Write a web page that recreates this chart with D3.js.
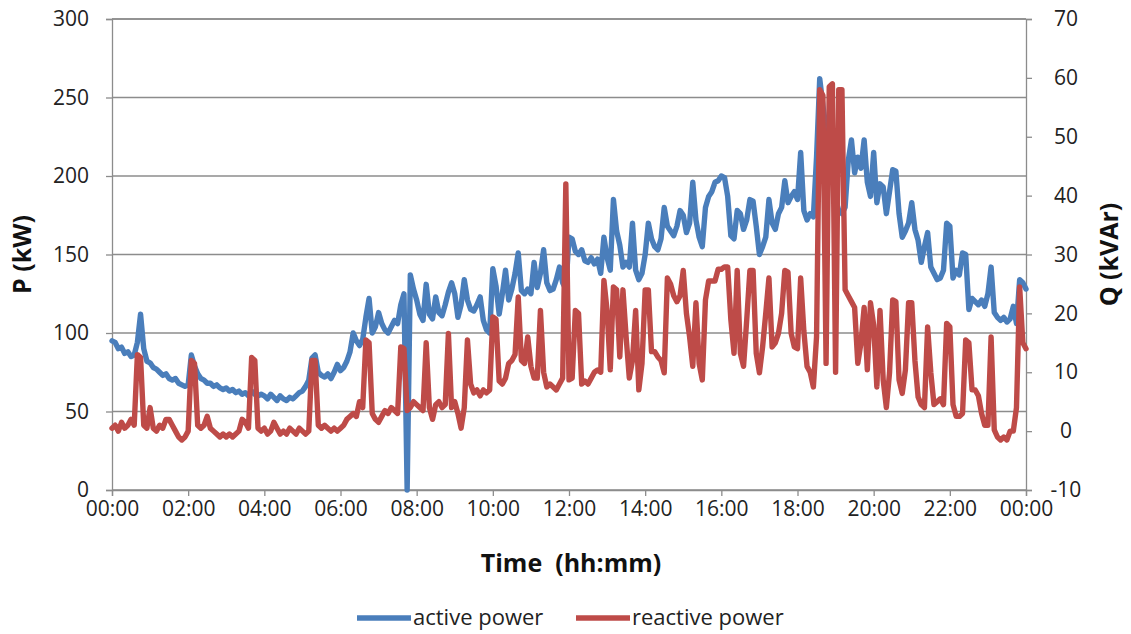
<!DOCTYPE html>
<html><head><meta charset="utf-8">
<script src="https://cdn.jsdelivr.net/npm/d3@7"></script>
<style>
html,body{margin:0;padding:0;background:#fff;}
svg{display:block;font-family:"Open Sans",sans-serif;}
</style></head>
<body>
<svg id="chart" width="1131" height="634"></svg>
<script>
// ---- data (5-minute samples, 00:00 .. 24:00) ----
const xTickLabels = ["00:00","02:00","04:00","06:00","08:00","10:00","12:00","14:00","16:00","18:00","20:00","22:00","00:00"];
const pTicks = [0,50,100,150,200,250,300];
const qTicks = [-10,0,10,20,30,40,50,60,70];
const seriesNames = ["active power","reactive power"];

// active power P (kW), one row per hour
const activePower = [
  95, 94, 90, 91, 87, 88, 85, 86, 94,112, 90, 82,
  81, 78, 77, 75, 73, 74, 71, 70, 71, 68, 67, 66,
  67, 86, 79, 74, 71, 70, 68, 68, 66, 67, 65, 64,
  65, 63, 64, 62, 63, 61, 62, 60, 63, 61, 60, 61,
  60, 58, 61, 59, 57, 60, 58, 57, 59, 58, 60, 62,
  63, 66, 70, 84, 86, 75, 73, 72, 74, 71, 75, 80,
  76, 78, 82, 88,100, 95, 92, 96,110,122,100,104,
 113,106,102,100,104,108,106,118,125,  0,137,128,
 121,112,108,131,112,109,123,113,111,118,126,132,
 125,110,118,134,121,115,114,118,123,108,102,100,
 141,130,112,125,140,121,128,138,151,127,125,128,
 125,145,129,138,153,132,127,128,134,142,132,128,
 161,160,152,150,153,146,145,148,144,147,138,161,
 148,140,185,165,156,142,145,142,170,140,134,138,
 150,170,160,155,153,160,180,168,165,162,168,178,
 175,164,170,196,172,161,155,180,187,190,196,197,
 200,199,187,162,160,178,176,166,172,185,184,168,
 150,155,161,185,170,166,176,180,197,183,187,190,
 185,215,178,172,176,174,212,262,245,230,215,200,
 185,178,176,180,210,223,202,212,205,223,196,187,
 215,183,195,193,176,190,204,203,176,161,165,170,
 183,166,159,145,155,164,142,138,134,135,140,170,
 168,135,140,137,151,150,115,122,120,118,121,117,
 125,142,113,110,108,110,107,109,117,106,134,132,
 128
];

// reactive power Q (kVAr), one row per hour
const reactivePower = [
 0.5, 1, 0, 1.5, 0.5, 1, 2, 1, 13, 12.5, 1, 0.5,
 4, 0.5, 0, 1, 0.5, 2, 2, 1, 0, -1, -1.5, -1,
 0, 12, 11.5, 1, 0.5, 1, 2.5, 0.5, 0, -0.5, -1, -0.5,
 -1, -0.5, -1, -0.5, 0, 2, 1.5, 0.5, 12.5, 12, 0.5, 0,
 0.5, -0.5, 0, 1.5, 0.5, -0.5, 0, -0.5, 0.5, 0, -0.5, 0.5,
 0, -0.5, 0, 12, 12, 1, 0.5, 1, 0.5, 0, 0.5, 0,
 0.5, 1, 2, 2.5, 3, 2.5, 5, 4, 15.5, 15, 3, 2,
 1.5, 2.5, 3.5, 3, 4, 3.5, 3, 14.3, 14, 3.5, 4, 5,
 4.5, 4, 3.5, 15, 4, 2, 4.5, 5, 4, 4.5, 16.6, 4,
 5, 3, 0.5, 4, 15.5, 8, 6.5, 7, 6, 7, 6.5, 7,
 19.4, 19, 8.5, 8, 9, 11.5, 12, 13, 22.8, 12, 11.5, 16,
 11, 9, 9, 20.5, 10, 7.5, 8, 7.5, 7, 8, 9, 42,
 8.7, 9, 20.5, 20, 8, 8.5, 8, 9, 10, 10.4, 10, 25.6,
 20.5, 10.4, 24.5, 24, 12.6, 24, 16, 9, 12, 20.5, 7, 11.5,
 24, 24, 13.5, 13.5, 12.6, 12, 9.9, 26, 25, 23, 22, 23,
 27.3, 20, 16, 11, 21.8, 11.5, 8.7, 22.3, 25.5, 25.5, 25.5, 27.5,
 27.5, 27.9, 27.9, 18.9, 13.2, 27.3, 13.2, 11, 18.9, 27.3, 27.3, 13.2,
 9.9, 14.3, 20, 26, 14.3, 15, 16.6, 20, 27.3, 27, 16.6, 14.3,
 14, 26, 17, 11, 10, 7.5, 16, 58, 57, 11.5, 58.5, 59,
 10, 58, 58, 24, 23, 22, 21, 11.5, 15, 21, 10.4, 21.8,
 18, 7.5, 20.5, 8.7, 4, 9.9, 22.3, 22, 8.7, 6.4, 10.4, 21.8,
 21.8, 12, 5.8, 4.5, 4, 17.7, 10, 4.5, 5, 5.5, 4.5, 18.3,
 17.7, 4.5, 2.5, 2.5, 3, 15.5, 15, 7, 7, 6, 3, 1,
 1, 16, 0.2, -1, -1.5, -1, -1.5, 0, 0, 4, 24.5, 15,
 14
];
const minutes = activePower.map((d, i) => i * 5);

// ---- drawing ----
(function () {
const svg = d3.select("#chart");
const mLeft = 112, mRight = 1026, mTop = 19, mBottom = 490;
const blue = "#4A7EBB", red = "#BE4B48", grid = "#8C8C8C";
const font = "'Open Sans',sans-serif";
const lw = 5.4;

const x = d3.scaleLinear().domain([0, 1440]).range([mLeft, mRight]);
const yP = d3.scaleLinear().domain([0, 300]).range([mBottom, mTop]);
const yQ = d3.scaleLinear().domain([-10, 70]).range([mBottom, mTop]);

// gridlines
svg.append("g").selectAll("line").data(pTicks).join("line")
  .attr("x1", mLeft).attr("x2", mRight)
  .attr("y1", d => yP(d)).attr("y2", d => yP(d))
  .attr("stroke", grid).attr("stroke-width", 1.3);

// axes
const fontSize = 21;
const xAxis = d3.axisBottom(x).tickValues(d3.range(0, 1441, 120))
  .tickFormat((d, i) => xTickLabels[i]).tickSize(6).tickPadding(5);
const gx = svg.append("g").attr("transform", `translate(0,${mBottom})`).call(xAxis);
const lAxis = d3.axisLeft(yP).tickValues(pTicks).tickSize(6).tickPadding(17);
const gl = svg.append("g").attr("transform", `translate(${mLeft},0)`).call(lAxis);
const rAxis = d3.axisRight(yQ).tickValues(qTicks).tickFormat(d => String(d)).tickSize(6).tickPadding(34);
const gr = svg.append("g").attr("transform", `translate(${mRight},0)`).call(rAxis);
gr.selectAll("text").attr("text-anchor", "middle");
[gx, gl, gr].forEach(g => {
  g.selectAll("path.domain").attr("stroke", grid).attr("stroke-width", 1.3);
  g.selectAll(".tick line").attr("stroke", grid).attr("stroke-width", 1.3);
  g.selectAll("text").attr("font-family", font)
    .attr("font-size", fontSize).attr("fill", "#222");
});
// top border
svg.append("line").attr("x1", mLeft).attr("x2", mRight).attr("y1", mTop).attr("y2", mTop)
  .attr("stroke", grid).attr("stroke-width", 1.3);

// series lines
const lineP = d3.line().x((d, i) => x(minutes[i])).y(d => yP(d));
const lineQ = d3.line().x((d, i) => x(minutes[i])).y(d => yQ(d));
svg.append("path").datum(activePower).attr("d", lineP)
  .attr("fill", "none").attr("stroke", blue).attr("stroke-width", lw)
  .attr("stroke-linejoin", "round").attr("stroke-linecap", "round");
svg.append("path").datum(reactivePower).attr("d", lineQ)
  .attr("fill", "none").attr("stroke", red).attr("stroke-width", lw)
  .attr("stroke-linejoin", "round").attr("stroke-linecap", "round");

// axis titles
svg.append("text").attr("transform", `translate(31,${(mTop + mBottom) / 2}) rotate(-90)`)
  .attr("text-anchor", "middle").attr("font-weight", "bold").attr("font-size", 25)
  .attr("font-family", font).attr("fill", "#111").text("P (kW)");
svg.append("text").attr("transform", `translate(1118,${(mTop + mBottom) / 2}) rotate(-90)`)
  .attr("text-anchor", "middle").attr("font-weight", "bold").attr("font-size", 25)
  .attr("font-family", font).attr("fill", "#111").text("Q (kVAr)");
svg.append("text").attr("x", 571).attr("y", 572)
  .attr("text-anchor", "middle").attr("font-weight", "bold").attr("font-size", 25)
  .attr("font-family", font).attr("fill", "#111").attr("xml:space", "preserve").text("Time  (hh:mm)");

// legend
const legend = [
  {name: seriesNames[0], color: blue, x0: 357},
  {name: seriesNames[1], color: red, x0: 576}
];
const lg = svg.append("g");
legend.forEach(d => {
  lg.append("line").attr("x1", d.x0).attr("x2", d.x0 + 54).attr("y1", 618).attr("y2", 618)
    .attr("stroke", d.color).attr("stroke-width", lw);
  lg.append("text").attr("x", d.x0 + 56).attr("y", 625).attr("font-size", 22)
    .attr("font-family", font).attr("fill", "#222").text(d.name);
});
})();
</script>
</body></html>
